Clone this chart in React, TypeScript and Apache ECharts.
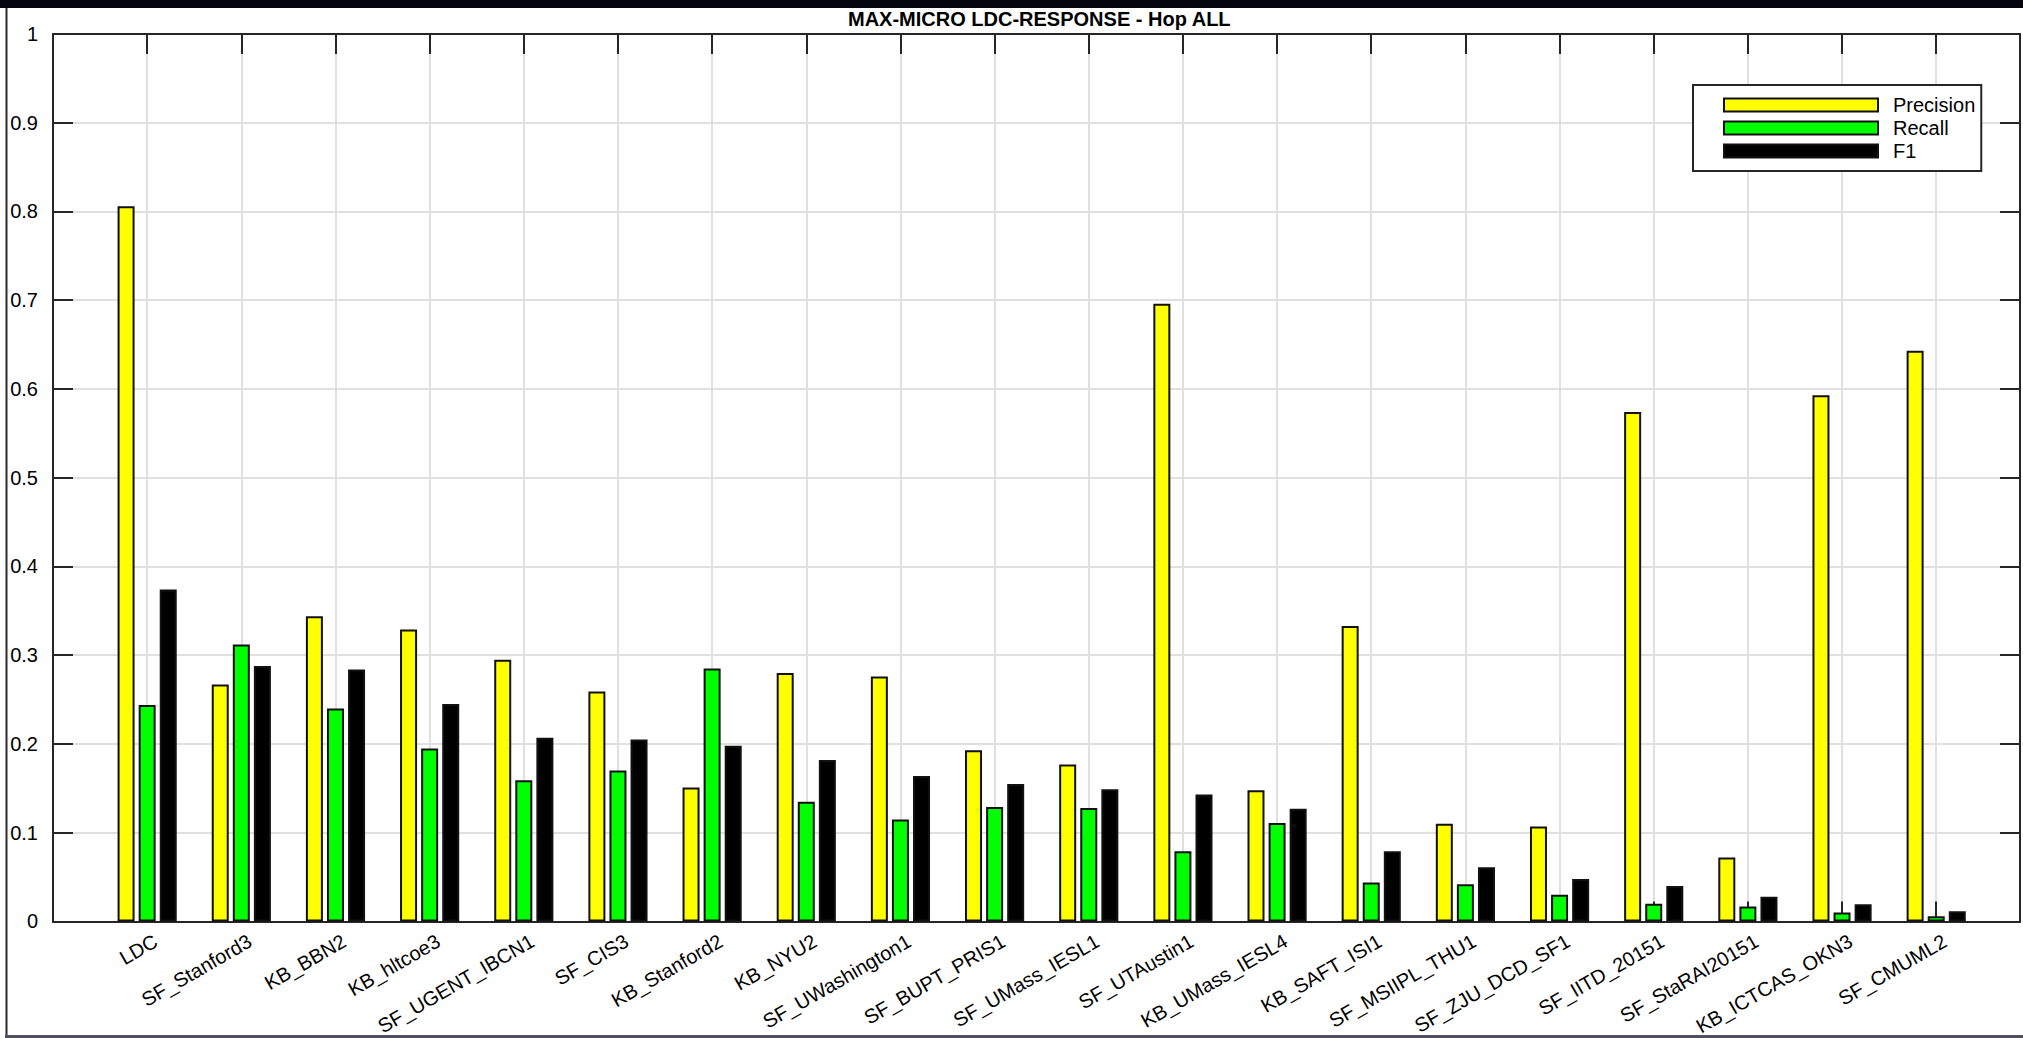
import React, { useEffect, useRef } from "react";
import * as echarts from "echarts";

const categories = [
  "LDC", "SF_Stanford3", "KB_BBN2", "KB_hltcoe3", "SF_UGENT_IBCN1", "SF_CIS3",
  "KB_Stanford2", "KB_NYU2", "SF_UWashington1", "SF_BUPT_PRIS1", "SF_UMass_IESL1",
  "SF_UTAustin1", "KB_UMass_IESL4", "KB_SAFT_ISI1", "SF_MSIIPL_THU1", "SF_ZJU_DCD_SF1",
  "SF_IITD_20151", "SF_StaRAI20151", "KB_ICTCAS_OKN3", "SF_CMUML2",
];
const precision = [
  0.806, 0.267, 0.344, 0.329, 0.295, 0.259, 0.151, 0.280, 0.276, 0.193,
  0.177, 0.696, 0.148, 0.333, 0.110, 0.107, 0.574, 0.072, 0.593, 0.643,
];
const recall = [
  0.244, 0.312, 0.240, 0.195, 0.159, 0.170, 0.285, 0.135, 0.115, 0.129,
  0.128, 0.079, 0.111, 0.044, 0.042, 0.030, 0.020, 0.017, 0.010, 0.006,
];
const f1 = [
  0.374, 0.288, 0.284, 0.245, 0.207, 0.205, 0.198, 0.182, 0.164, 0.155,
  0.149, 0.143, 0.127, 0.079, 0.061, 0.048, 0.040, 0.028, 0.0195, 0.0116,
];
const seriesNames = ["Precision", "Recall", "F1"];
const seriesColors = ["#ffff00", "#00ff00", "#000000"];
const titleText = "MAX-MICRO LDC-RESPONSE - Hop ALL";

const FONT = "'Liberation Sans', Arial, Helvetica, sans-serif";
const AXIS = "#262626";
const GRID = "#e0e0e0";

export default function App() {
  const ref = useRef<HTMLDivElement>(null);
  useEffect(() => {
    if (!ref.current) return;
    const chart = echarts.init(ref.current, undefined, { renderer: "svg" });
    const catLabel = (v: number) => {
      const k = Math.round(v);
      if (Math.abs(v - k) > 1e-6 || k < 1 || k > categories.length) return "";
      return categories[k - 1];
    };
    const values = [precision, recall, f1];
    const xMax = 20.89;
    const tick = { show: true, inside: true, length: 20, lineStyle: { color: AXIS, width: 2 } };
    const line = { show: true, onZero: false, lineStyle: { color: AXIS, width: 2 } };
    const xBase = { type: "value", min: 0, max: xMax, interval: 1 };
    const yBase = { type: "value", min: 0, max: 1, interval: 0.1 };
    const gridOnly = {
      z: 0,
      axisLine: { show: false },
      axisTick: { show: false },
      axisLabel: { show: false },
      splitLine: { show: true, lineStyle: { color: GRID, width: 2 } },
    };
    const option: any = {
      animation: false,
      backgroundColor: "#ffffff",
      textStyle: { fontFamily: FONT },
      title: {
        text: titleText,
        left: 848,
        top: 9,
        padding: 0,
        textStyle: { fontFamily: FONT, fontSize: 20, fontWeight: "bold", color: "#000" },
      },
      legend: {
        orient: "vertical",
        left: 1693,
        top: 85,
        padding: [10, 6, 10, 30],
        itemWidth: 154,
        itemHeight: 13,
        itemGap: 3,
        icon: "rect",
        backgroundColor: "#ffffff",
        borderColor: AXIS,
        borderWidth: 2,
        borderRadius: 0,
        z: 10,
        textStyle: { fontFamily: FONT, fontSize: 20, color: "#000", padding: [0, 0, 0, 10] },
        data: seriesNames,
      },
      grid: { left: 53, top: 34, right: 3, bottom: 113, containLabel: false },
      xAxis: [
        {
          ...xBase,
          position: "bottom",
          z: 1,
          axisLine: line,
          axisTick: tick,
          axisLabel: {
            rotate: 30,
            margin: 23,
            padding: [0, -10, 0, 0],
            fontSize: 20,
            fontFamily: FONT,
            color: "#000",
            formatter: catLabel,
            showMaxLabel: false,
          },
          splitLine: { show: false },
        },
        {
          ...xBase,
          position: "top",
          z: 1,
          axisLine: line,
          axisTick: tick,
          axisLabel: { show: false },
          splitLine: { show: false },
        },
        { ...xBase, position: "bottom", ...gridOnly },
      ],
      yAxis: [
        {
          ...yBase,
          position: "left",
          z: 1,
          axisLine: line,
          axisTick: tick,
          axisLabel: {
            margin: 15,
            fontSize: 20,
            fontFamily: FONT,
            color: "#000",
            formatter: (v: number) => String(Math.round(v * 10) / 10),
          },
          splitLine: { show: false },
        },
        {
          ...yBase,
          position: "right",
          z: 1,
          axisLine: line,
          axisTick: tick,
          axisLabel: { show: false },
          splitLine: { show: false },
        },
        { ...yBase, position: "left", ...gridOnly },
      ],
      series: seriesNames.map((name, s) => ({
        name,
        type: "bar",
        xAxisIndex: 0,
        yAxisIndex: 0,
        z: 3,
        barWidth: 17,
        barGap: "24%",
        itemStyle: { color: seriesColors[s], borderColor: "#111111", borderWidth: 2 },
        emphasis: { disabled: true },
        data: categories.map((_, i) => [i + 1, values[s][i]]),
      })),
      graphic: [
        { type: "rect", shape: { x: 0, y: 0, width: 2023, height: 8 }, style: { fill: "#04040f" }, silent: true },
        { type: "line", shape: { x1: 6.5, y1: 8, x2: 6.5, y2: 1038 }, style: { stroke: "#2a2a33", lineWidth: 2 }, silent: true },
        { type: "rect", shape: { x: 5, y: 1035, width: 2018, height: 3 }, style: { fill: "#50505e" }, silent: true },
      ],
    };
    chart.setOption(option);
    return () => chart.dispose();
  }, []);
  return (
    <div
      ref={ref}
      style={{ position: "absolute", left: 0, top: 0, width: 2023, height: 1038, background: "#fff" }}
    />
  );
}
